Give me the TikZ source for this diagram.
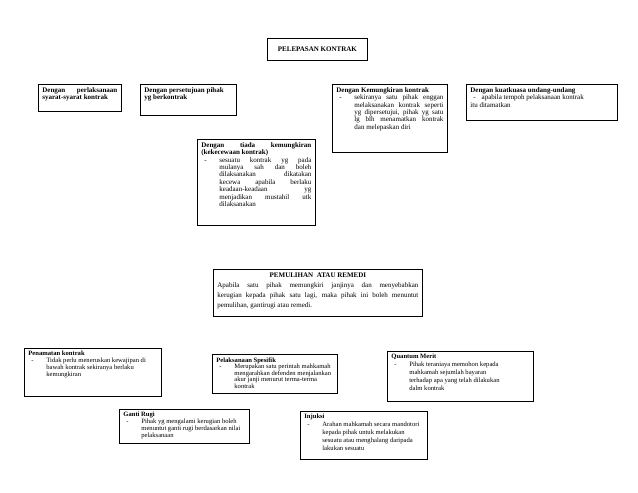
\documentclass[tikz,border=0pt]{standalone}
\usepackage{fontspec}
\setmainfont{Liberation Serif}
\tikzset{kotak/.style={draw, line width=0.8pt, anchor=north west, inner xsep=4pt,
    inner ysep=3pt, font=\fontsize{7}{7.4}\selectfont}}
% isi kotak: lebar, tinggi, teks
\newcommand{\isi}[3]{\parbox[c][#2][t]{#1}{#3}}
\newcommand{\butir}{\par\noindent\hangindent=18pt\hangafter=1\hbox to 18pt{\hskip3pt-\hfil}}

\begin{document}
\begin{tikzpicture}[x=1pt, y=-1pt]
    \useasboundingbox (0,0) rectangle (638,493);
    \node[kotak, minimum width=100pt, minimum height=22pt] (lepas) at (267,38)
          {\bfseries PELEPASAN KONTRAK};
    \node[kotak] (syarat) at (38,84) {\isi{75pt}{21pt}{\bfseries
          Dengan perlaksanaan\linebreak syarat-syarat kontrak}};
    \node[kotak] (setuju) at (140,84) {\isi{88pt}{25pt}{\raggedright\bfseries
          Dengan persetujuan pihak\newline yg berkontrak}};
    \node[kotak] (mungkir) at (332,84) {\isi{107pt}{62pt}{\textbf{Dengan Kemungkiran kontrak}
          \butir sekiranya satu pihak enggan\linebreak melaksanakan kontrak seperti\linebreak
          yg dipersetujui, pihak yg satu\linebreak lg blh menamatkan kontrak\linebreak
          dan melepaskan diri}};
    \node[kotak] (kuasa) at (466,84) {\isi{143pt}{30pt}{\raggedright
          \textbf{Dengan kuatkuasa undang-undang}\newline
          \hspace*{3pt}-\hspace{6pt}apabila tempoh pelaksanaan kontrak\newline itu ditamatkan}};
    \node[kotak] (kecewa) at (197,139) {\isi{110pt}{80pt}{\textbf{Dengan tiada
          kemungkiran\linebreak (kekecewaan kontrak)}
          \butir sesuatu kontrak yg pada\linebreak mulanya sah dan boleh\linebreak
          dilaksanakan dikatakan\linebreak kecewa apabila berlaku\linebreak
          keadaan-keadaan yg\linebreak menjadikan mustahil utk\linebreak
          dilaksanakan}};
    \node[kotak] (remedi) at (213,269) {\isi{201pt}{41pt}{\fontsize{7}{10}\selectfont
          {\centering\bfseries PEMULIHAN~~ATAU REMEDI\par}
          Apabila satu pihak memungkiri janjinya dan menyebabkan\linebreak kerugian
          kepada pihak satu lagi, maka pihak ini boleh menuntut\linebreak
          pemulihan, gantirugi atau remedi.}};
    \node[kotak] (tamat) at (24,348) {\isi{129pt}{42pt}{\fontsize{6.6}{7}\selectfont
          \raggedright\textbf{Penamatan kontrak}
          \butir Tidak perlu meneruskan kewajipan di\newline bawah kontrak sekiranya
          berlaku\newline kemungkiran}};
    \node[kotak] (spesifik) at (212,354) {\isi{117pt}{33pt}{\fontsize{6.6}{6.6}\selectfont
          \raggedright\textbf{Pelaksanaan Spesifik}
          \butir Merupakan satu perintah mahkamah\newline mengarahkan defenden
          menjalankan\newline akur janji menurut terma-terma\newline kontrak}};
    \node[kotak] (merit) at (387,351) {\isi{138pt}{44pt}{\fontsize{6.6}{7.8}\selectfont
          \raggedright\textbf{Quantum Merit}
          \butir Pihak teraniaya memohon kepada\newline mahkamah sejumlah bayaran\newline
          terhadap apa yang telah dilakukan\newline dalm kontrak}};
    \node[kotak] (rugi) at (119,409) {\isi{122pt}{28pt}{\fontsize{6.6}{7}\selectfont
          \raggedright\textbf{Ganti Rugi}
          \butir Pihak yg mengalami kerugian boleh\newline menuntut ganti rugi
          berdasarkan nilai\newline pelaksanaan}};
    \node[kotak] (injuksi) at (300,411) {\isi{119pt}{42pt}{\fontsize{6.6}{8}\selectfont
          \raggedright\textbf{Injuksi}
          \butir Arahan mahkamah secara mandotori\newline kepada pihak untuk
          melakukan\newline sesuatu atau menghalang daripada\newline lakukan sesuatu}};
\end{tikzpicture}
\end{document}
